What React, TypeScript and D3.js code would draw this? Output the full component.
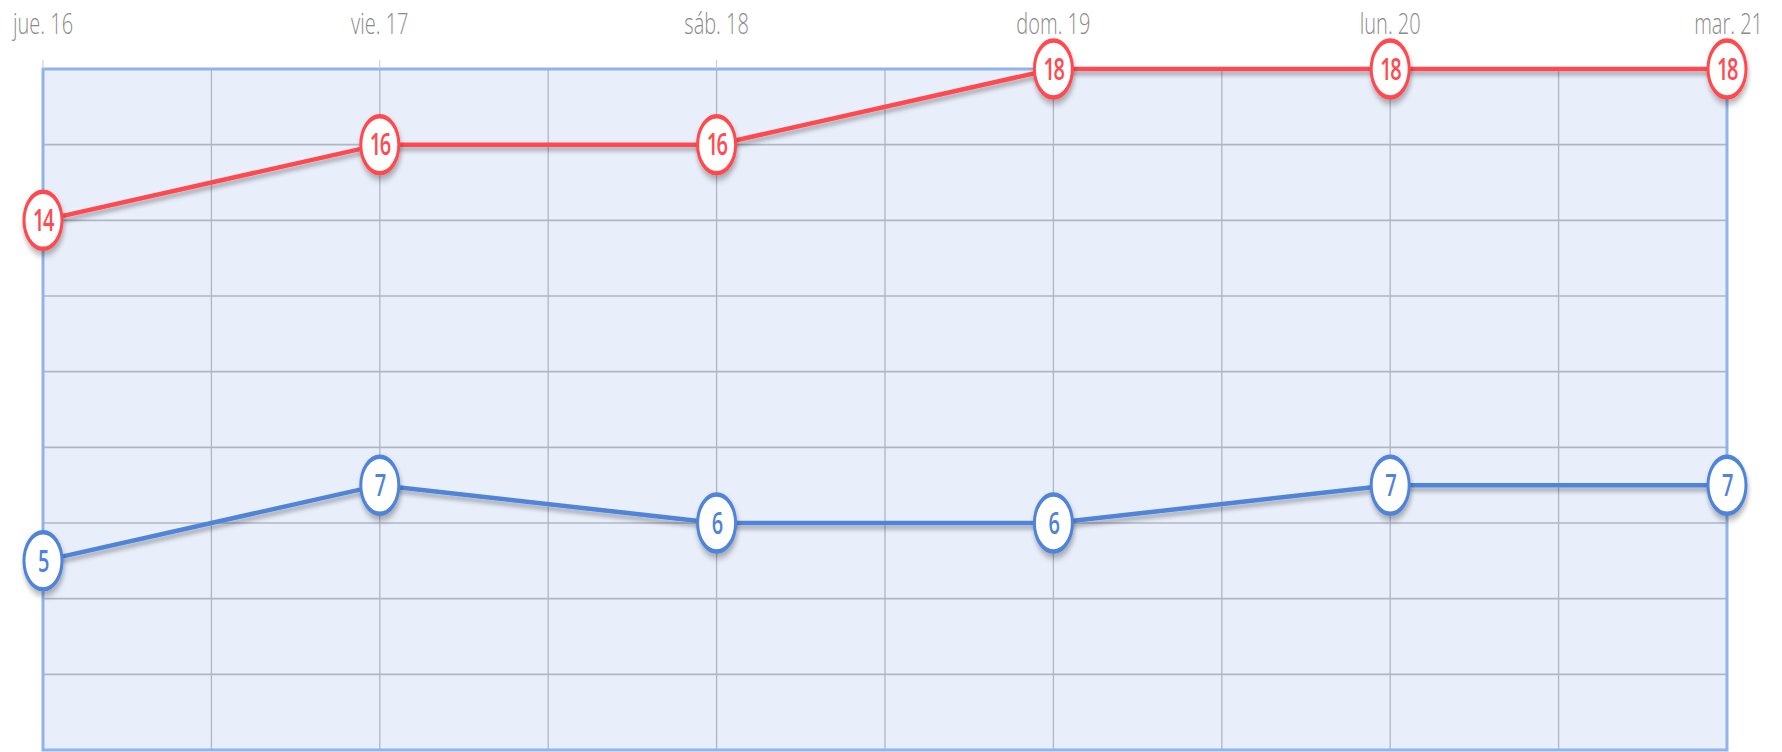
import { useMemo } from "react";
import * as d3 from "d3";

// Chart data
const days = ["jue. 16", "vie. 17", "sáb. 18", "dom. 19", "lun. 20", "mar. 21"];
const maxTemps = [14, 16, 16, 18, 18, 18];
const minTemps = [5, 7, 6, 6, 7, 7];
const yTicks = [0, 2, 4, 6, 8, 10, 12, 14, 16, 18];

const W = 1782;
const H = 752;
const margin = { top: 69, right: 55, bottom: 2, left: 43 };
const SY = 1.5; // the picture is stretched vertically

const series = [
    { name: "max", values: maxTemps, color: "#ff4a4f" },
    { name: "min", values: minTemps, color: "#4f84d8" },
];

export default function App() {
    const x = useMemo(
        () => d3.scaleLinear().domain([0, days.length - 1]).range([margin.left, W - margin.right]),
        []
    );
    const y = useMemo(
        () => d3.scaleLinear().domain([0, 18]).range([H - margin.bottom, margin.top]),
        []
    );

    const line = d3
        .line<number>()
        .x((_, i) => x(i))
        .y((d) => y(d));

    const vGrid = d3.range(0, days.length - 0.99, 0.5);

    return (
        <svg
            width={W}
            height={H}
            style={{ position: "absolute", left: 0, top: 0, display: "block" }}
            fontFamily="'Open Sans', sans-serif"
        >
            <defs>
                <filter id="shadow" x="-10%" y="-50%" width="120%" height="200%">
                    <feDropShadow dx="1" dy="4" stdDeviation="2" floodColor="#000" floodOpacity="0.3" />
                </filter>
                <filter id="mshadow" x="-50%" y="-50%" width="200%" height="200%">
                    <feDropShadow dx="1" dy="3" stdDeviation="2" floodColor="#000" floodOpacity="0.3" />
                </filter>
            </defs>

            {/* plot background */}
            <rect
                x={margin.left}
                y={margin.top}
                width={W - margin.left - margin.right}
                height={H - margin.top - margin.bottom}
                fill="#e8eefa"
            />

            {/* grid */}
            {yTicks.map((t) => (
                <line
                    key={"h" + t}
                    x1={margin.left}
                    x2={W - margin.right}
                    y1={y(t)}
                    y2={y(t)}
                    stroke="#b0b6c2"
                    strokeWidth={1.6}
                />
            ))}
            {vGrid.map((v) => (
                <line
                    key={"v" + v}
                    x1={x(v)}
                    x2={x(v)}
                    y1={margin.top}
                    y2={H - margin.bottom}
                    stroke="#b0b6c2"
                    strokeWidth={1.3}
                />
            ))}

            {/* border */}
            <rect
                x={margin.left}
                y={margin.top}
                width={W - margin.left - margin.right}
                height={H - margin.top - margin.bottom}
                fill="none"
                stroke="#8fb3ea"
                strokeWidth={3}
            />

            {/* x ticks + labels */}
            {days.map((d, i) => (
                <g key={d}>
                    <line x1={x(i)} x2={x(i)} y1={margin.top - 9} y2={margin.top} stroke="#c8c8c8" strokeWidth={1} />
                    <text
                        transform={`translate(${x(i)},34) scale(1,${SY})`}
                        textAnchor={i === days.length - 1 ? "end" : "middle"}
                        dx={i === days.length - 1 ? 36 : 0}
                        fontSize={20}
                        fontWeight={300}
                        fill="#8a8a8a"
                    >
                        {d}
                    </text>
                </g>
            ))}

            {/* lines */}
            {series.map((s) => (
                <path
                    key={s.name}
                    d={line(s.values) ?? ""}
                    fill="none"
                    stroke={s.color}
                    strokeWidth={4.5}
                    filter="url(#shadow)"
                />
            ))}

            {/* markers */}
            {series.map((s) =>
                s.values.map((v, i) => (
                    <g key={s.name + i} transform={`translate(${x(i)},${y(v)}) scale(1,${SY})`}>
                        <circle r={19} fill="#fff" stroke={s.color} strokeWidth={3} filter="url(#mshadow)" />
                        <text
                            textAnchor="middle"
                            dy="0.36em"
                            fontSize={20}
                            fontWeight={600}
                            fill={s.color}
                            letterSpacing={-1.5}
                        >
                            {v}
                        </text>
                    </g>
                ))
            )}
        </svg>
    );
}
